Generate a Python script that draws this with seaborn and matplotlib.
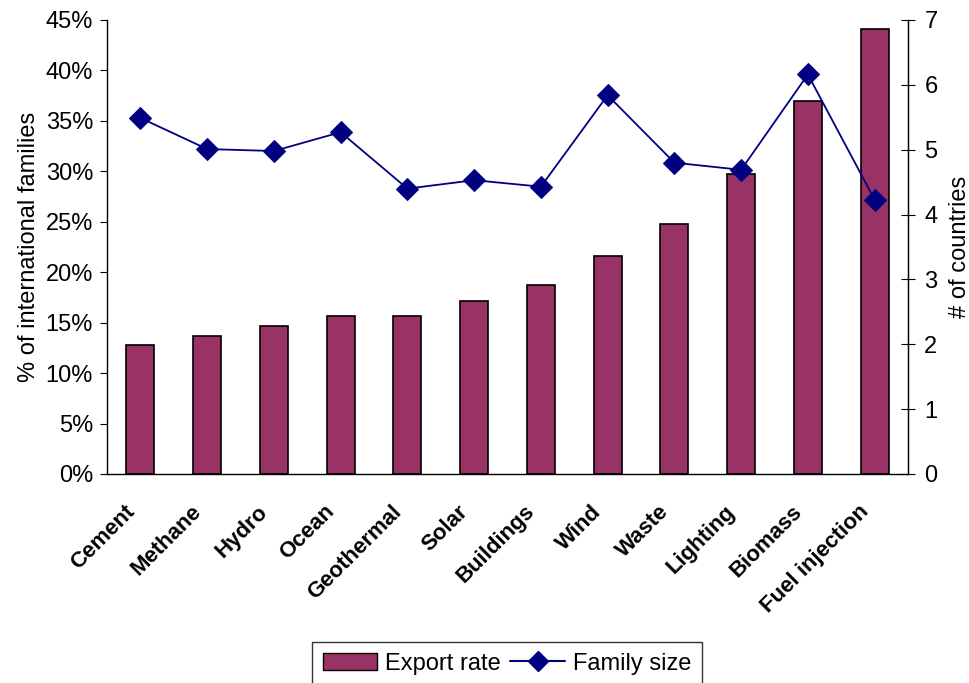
import numpy as np
import pandas as pd
import matplotlib
matplotlib.use('Agg')
import matplotlib.pyplot as plt
import matplotlib.ticker as mtick
import matplotlib.transforms as mtrans
from matplotlib.patches import Patch
from matplotlib.lines import Line2D
import seaborn as sns

# podaci
categories = ['Cement', 'Methane', 'Hydro', 'Ocean', 'Geothermal', 'Solar',
              'Buildings', 'Wind', 'Waste', 'Lighting', 'Biomass', 'Fuel injection']
export_rate = [0.128, 0.137, 0.147, 0.157, 0.157, 0.171,
               0.187, 0.216, 0.248, 0.297, 0.370, 0.441]
family_size = [5.49, 5.01, 4.98, 5.27, 4.40, 4.53,
               4.43, 5.84, 4.80, 4.69, 6.16, 4.23]

df = pd.DataFrame({'category': categories, 'export': export_rate, 'family': family_size})

sns.set_style('white')
plt.rcParams['font.family'] = ['Liberation Sans', 'DejaVu Sans']
plt.rcParams.update({'text.color': 'black', 'axes.labelcolor': 'black',
                     'xtick.color': 'black', 'ytick.color': 'black'})

fig = plt.figure(figsize=(9.69, 6.83), dpi=100)
ax = fig.add_axes([107 / 969, 1 - 474 / 683, (908 - 107) / 969, (474 - 20) / 683])

sns.barplot(data=df, x='category', y='export', color='#993366', width=0.42,
            edgecolor='black', linewidth=1.2, saturation=1, ax=ax)
ax.set_xlim(-0.5, len(categories) - 0.5)
ax.set_ylim(0, 0.45)
ax.yaxis.set_major_locator(mtick.MultipleLocator(0.05))
ax.yaxis.set_major_formatter(mtick.PercentFormatter(1.0, decimals=0))
ax.set_xlabel('')
ax.set_ylabel('% of international families', fontsize=17, labelpad=4)
ax.set_xticks(range(len(categories)))
ax.set_xticklabels(categories, rotation=45, ha='right', va='center', rotation_mode='anchor',
                   fontsize=16, fontweight='bold')
ax.set_xticks(np.arange(-0.5, len(categories), 1), minor=True)
ax.tick_params(axis='x', which='major', length=0, pad=22)
ax.tick_params(axis='x', which='minor', length=7, direction='inout', width=1)
ax.tick_params(axis='y', length=5, direction='out', labelsize=17, left=True, pad=5)
shift = mtrans.ScaledTranslation(-9 / 100, -4 / 100, fig.dpi_scale_trans)
for lbl in ax.get_xticklabels():
    lbl.set_transform(lbl.get_transform() + shift)

ax2 = ax.twinx()
sns.lineplot(data=df, x='category', y='family', sort=False, color='#000080',
             marker='D', markersize=11, markeredgecolor='#000080', linewidth=1.3, ax=ax2)
ax2.set_ylim(0, 7)
ax2.yaxis.set_major_locator(mtick.MultipleLocator(1))
ax2.set_ylabel('# of countries', fontsize=17, labelpad=8)
ax2.set_xlabel('')
ax2.tick_params(axis='y', length=9.5, direction='inout', labelsize=17, right=True, pad=7)

for a in (ax, ax2):
    a.spines['top'].set_visible(False)
for s in ('left', 'bottom'):
    ax.spines[s].set_color('black')
    ax.spines[s].set_linewidth(1)
ax2.spines['right'].set_color('black')
ax2.spines['right'].set_linewidth(1)
ax2.spines['left'].set_visible(False)
ax2.spines['bottom'].set_visible(False)

handles = [Patch(facecolor='#993366', edgecolor='black', label='Export rate'),
           Line2D([0], [0], color='#000080', marker='D', markersize=10, label='Family size')]
leg = fig.legend(handles=handles, loc='upper center', bbox_to_anchor=(507 / 969, 1 - 642 / 683),
                 ncol=2, fontsize=17, frameon=True, fancybox=False, edgecolor='black',
                 handlelength=2.3, columnspacing=0.4, handletextpad=0.35, borderpad=0.45,
                 borderaxespad=0)
leg.get_frame().set_linewidth(1)

fig.savefig('out.png', dpi=100)
